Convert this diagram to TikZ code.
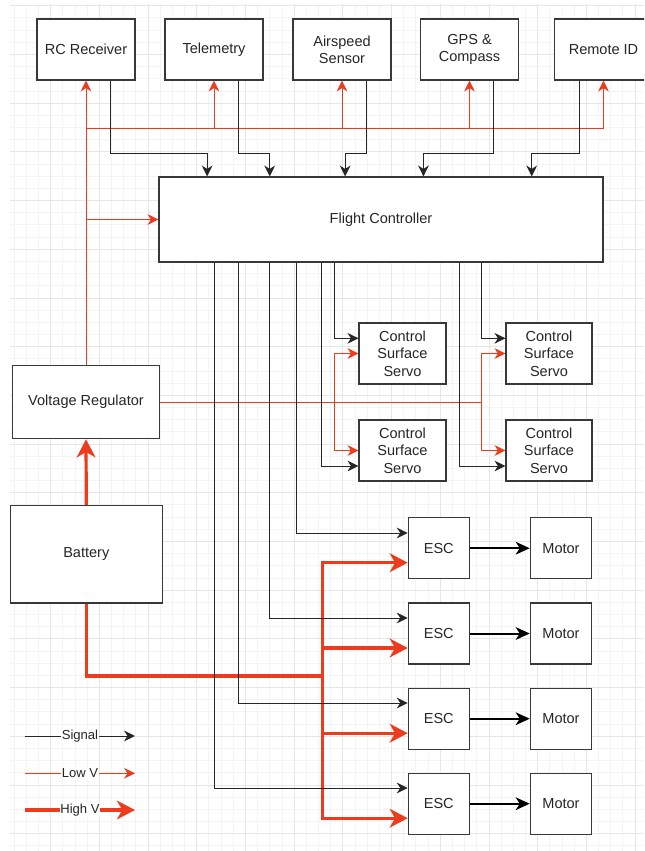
\documentclass[tikz,border=0pt]{standalone}
\usepackage{fontspec}
\setmainfont{Liberation Sans}
\usetikzlibrary{arrows.meta,calc}
\definecolor{pwr}{HTML}{EC3B1D}
\definecolor{gridmaj}{HTML}{E6E6E6}
\definecolor{gridmin}{HTML}{F4F4F4}
\definecolor{ink}{HTML}{262626}
\newcommand\blk[6]{\node[box,minimum width=#4*0.75pt,minimum height=#5*0.75pt] (#1) at (#2,#3) {#6};}
\begin{document}
\begin{tikzpicture}[x=0.75pt,y=-0.75pt,
  box/.style={draw=black!78,line width=0.85pt,fill=white,align=center,inner sep=0pt,
    font=\fontsize{10.9}{13}\selectfont,text=ink},
  thintip/.style={-{Stealth[length=8.2pt,width=8pt,inset=2.6pt]}},
  bigtip/.style={-{Stealth[length=13.5pt,width=14pt,inset=4pt]}},
  mottip/.style={-{Stealth[length=10.5pt,width=9.5pt,inset=3pt]}},
  sigline/.style={draw=black!85,line width=0.75pt},
  sig/.style={sigline,thintip},
  lowline/.style={draw=pwr,line width=0.75pt},
  lowv/.style={lowline,thintip},
  highline/.style={draw=pwr,line width=2.4pt},
  highv/.style={highline,bigtip},
  mot/.style={draw=black,line width=1.5pt,mottip},
  leg/.style={fill=white,inner sep=0.6pt,font=\fontsize{9.8}{11}\selectfont,text=ink},
  gminor/.style={draw=gridmin,line width=0.75pt},
  gmajor/.style={draw=gridmaj,line width=0.75pt}]
\useasboundingbox (0,0) rectangle (644,851);
\clip (0,0) rectangle (644,851);
\fill[white] (0,0) rectangle (644,851);
% grid
\begin{scope}
\clip (10,4) rectangle (644,851);
\foreach \k in {0,...,53}{\pgfmathsetmacro\xx{2+12.175*\k}\draw[gminor] (\xx,0) -- (\xx,851);}
\foreach \k in {0,...,70}{\pgfmathsetmacro\yy{5.8+12.175*\k}\draw[gminor] (0,\yy) -- (644,\yy);}
\foreach \k in {0,...,13}{\pgfmathsetmacro\xx{2+48.7*\k}\draw[gmajor] (\xx,0) -- (\xx,851);}
\foreach \k in {0,...,17}{\pgfmathsetmacro\yy{5.8+48.7*\k}\draw[gmajor] (0,\yy) -- (644,\yy);}
\end{scope}
% nodes
\blk{rc}{86}{49.5}{98}{61}{RC Receiver}
\blk{tel}{214}{49.5}{98}{61}{Telemetry}
\blk{air}{342}{49.5}{98}{61}{Airspeed\\Sensor}
\blk{gps}{469.5}{49.5}{98}{61}{GPS \&\\Compass}
\blk{rid}{603.5}{49.5}{98}{61}{Remote ID}
\blk{fc}{381}{219.5}{444}{85}{Flight Controller}
\blk{s1}{402.5}{353.5}{87}{61}{Control\\Surface\\Servo}
\blk{s2}{402.5}{450.5}{87}{61}{Control\\Surface\\Servo}
\blk{s3}{549}{353.5}{86}{61}{Control\\Surface\\Servo}
\blk{s4}{549}{450.5}{86}{61}{Control\\Surface\\Servo}
\blk{vr}{86}{402}{147}{73.5}{Voltage Regulator}
\blk{bat}{86.3}{554.2}{152}{97.7}{Battery}
\blk{esc1}{438.8}{548.2}{61}{61}{ESC}
\blk{esc2}{438.8}{633.5}{61}{61}{ESC}
\blk{esc3}{438.8}{718.7}{61}{61}{ESC}
\blk{esc4}{438.8}{803.7}{61}{61}{ESC}
\blk{m1}{561}{548.2}{61.4}{61}{Motor}
\blk{m2}{561}{633.5}{61.4}{61}{Motor}
\blk{m3}{561}{718.7}{61.4}{61}{Motor}
\blk{m4}{561}{803.7}{61.4}{61}{Motor}
% helper coordinates
\coordinate (busS) at (0,153);
\coordinate (busL) at (0,128);
\coordinate (hb) at (0,676);
\coordinate (jlx) at ($(s1.west)+(-23.5,0)$);
\coordinate (jrx) at ($(s3.west)+(-24.3,0)$);
\coordinate (jb) at ($(esc1.west)+(-85,0)$);
% low voltage
\draw[lowv] (vr.north) -- (rc.south);
\draw[lowline] (rc.south |- busL) -- (rid.south |- busL);
\draw[lowv] (tel.south |- busL) -- (tel.south);
\draw[lowv] (air.south |- busL) -- (air.south);
\draw[lowv] (gps.south |- busL) -- (gps.south);
\draw[lowv] (rid.south |- busL) -- (rid.south);
\draw[lowv] (rc.south |- fc.west) -- (fc.west);
\draw[lowline] (vr.east) -- (jrx |- vr.east);
\draw[lowv] (jlx |- vr.east) |- (s1.west);
\draw[lowv] (jlx |- vr.east) |- (s2.west);
\draw[lowv] (jrx |- vr.east) |- (s3.west);
\draw[lowv] (jrx |- vr.east) |- (s4.west);
% signals into FC
\draw[sig] ($(rc.south)+(24.3,0)$) coordinate (o1) -- (o1 |- busS) -| ($(fc.north west)+(48.7,0)$);
\draw[sig] ($(tel.south)+(24,0)$) coordinate (o2) -- (o2 |- busS) -| ($(fc.north west)+(111.3,0)$);
\draw[sig] ($(air.south)+(24.3,0)$) coordinate (o3) -- (o3 |- busS) -| ($(fc.north west)+(186.7,0)$);
\draw[sig] ($(gps.south)+(24.2,0)$) coordinate (o4) -- (o4 |- busS) -| ($(fc.north west)+(265,0)$);
\draw[sig] ($(rid.south)+(-23.8,0)$) coordinate (o5) -- (o5 |- busS) -| ($(fc.north west)+(373.3,0)$);
% high voltage
\draw[highv] (bat.north) -- (vr.south);
\draw[highline] (bat.south) |- (jb |- hb);
\draw[highv] (jb |- hb) |- ($(esc1.west)+(0,14.5)$);
\draw[highv] (jb |- hb) |- ($(esc2.west)+(0,14.5)$);
\draw[highv] (jb |- hb) |- ($(esc3.west)+(0,14.5)$);
\draw[highv] (jb |- hb) |- ($(esc4.west)+(0,14.5)$);
% signals out of FC
\draw[sig] (fc.south -| jlx) |- ($(s1.west)+(0,-15.2)$);
\draw[sig] ($(fc.south west)+(162.7,0)$) |- ($(s2.west)+(0,15.5)$);
\draw[sig] (fc.south -| jrx) |- ($(s3.west)+(0,-15.2)$);
\draw[sig] ($(fc.south west)+(301,0)$) |- ($(s4.west)+(0,15.5)$);
\draw[sig] ($(fc.south west)+(138,0)$) |- ($(esc1.west)+(0,-15.2)$);
\draw[sig] ($(fc.south west)+(111.3,0)$) |- ($(esc2.west)+(0,-15.5)$);
\draw[sig] ($(fc.south west)+(80.2,0)$) |- ($(esc3.west)+(0,-15.7)$);
\draw[sig] ($(fc.south west)+(56.5,0)$) |- ($(esc4.west)+(0,-15.7)$);
% motors
\draw[mot] (esc1) -- (m1);
\draw[mot] (esc2) -- (m2);
\draw[mot] (esc3) -- (m3);
\draw[mot] (esc4) -- (m4);
% legend
\coordinate (lg1a) at (25,736);
\coordinate (lg1b) at (135,736);
\coordinate (lg2a) at (25,773.3);
\coordinate (lg2b) at (135,773.3);
\coordinate (lg3a) at (25,810);
\coordinate (lg3b) at (135,810);
\draw[sig] (lg1a) -- node[leg] (t1) {Signal} (lg1b);
\draw[lowv] (lg2a) -- node[leg] (t2) {Low V} (lg2b);
\draw[highv] (lg3a) -- node[leg] (t3) {High V} (lg3b);
\end{tikzpicture}
\end{document}
